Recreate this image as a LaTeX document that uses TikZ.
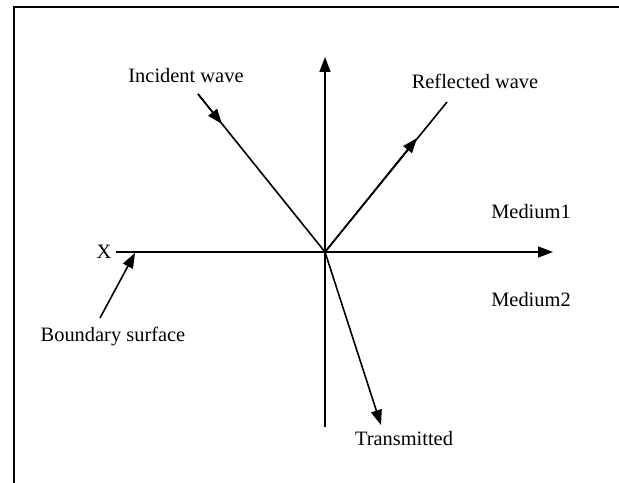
\documentclass[tikz,border=0pt]{standalone}
\usepackage{fontspec}
\setmainfont{Liberation Serif}
\usetikzlibrary{arrows.meta}
\begin{document}
\begin{tikzpicture}[x=1bp,y=-1bp,
  lbl/.style={font=\fontsize{20.5}{24}\selectfont, inner sep=0pt},
  ln/.style={line width=1.6bp},
  arr/.style={ln,-{Triangle[length=15bp,width=11bp]}}]
\useasboundingbox (0,0) rectangle (619,483);
\begin{scope}
\clip (0,0) rectangle (619,483);
\draw[line width=2bp] (13.5,7.5) rectangle (640,500);
\end{scope}
% coordinates
\coordinate (O) at (325,252);
\coordinate (xl) at (116,252);
\coordinate (xr) at (553,252);
\coordinate (yt) at (325,57);
\coordinate (yb) at (325,427);
\coordinate (incS) at (198,94);
\coordinate (incM) at (222,124);
\coordinate (refE) at (447,102);
\coordinate (refM) at (417,138);
\coordinate (trE) at (381,425);
\coordinate (bS) at (100,318);
\coordinate (bE) at (135,253);
% axes
\draw[arr] (xl) -- (xr);
\draw[arr] (yb) -- (yt);
% incident
\draw[ln] (incS) -- (O);
\draw[arr] (incS) -- (incM);
% reflected
\draw[ln] (O) -- (refE);
\draw[arr] (O) -- (refM);
% transmitted
\draw[arr] (O) -- (trE);
% boundary
\draw[arr] (bS) -- (bE);
% labels
\node[lbl] (tinc) at (186,76) {Incident wave};
\node[lbl] (tref) at (475,81) {Reflected wave};
\node[lbl] (tm1) at (531,212) {Medium1};
\node[lbl] (tm2) at (531,300) {Medium2};
\node[lbl] (tx) at (104,252) {X};
\node[lbl] (tbs) at (113,337) {Boundary surface};
\node[lbl] (ttr) at (404,439) {Transmitted};
\end{tikzpicture}
\end{document}
